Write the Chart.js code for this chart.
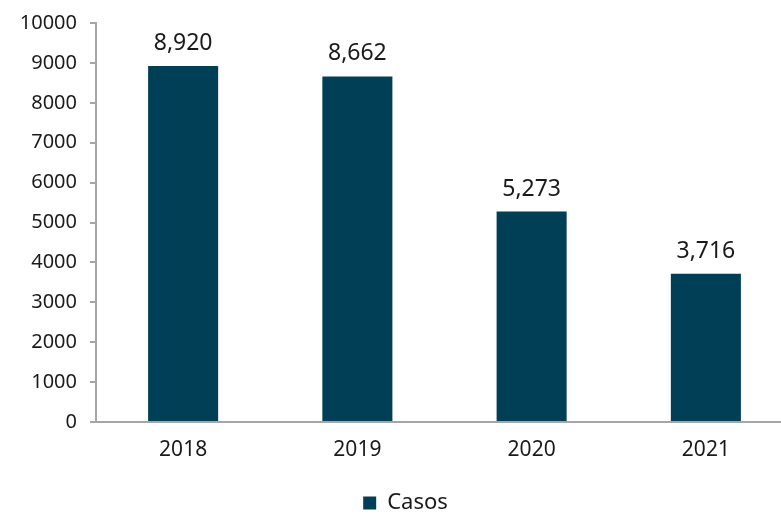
<!DOCTYPE html>
<html>
<head>
<meta charset="utf-8">
<script src="https://cdn.jsdelivr.net/npm/chart.js@4/dist/chart.umd.min.js"></script>
<style>
  html, body { margin: 0; padding: 0; background: #ffffff; overflow: hidden; }
  #wrap { width: 826px; height: 515px; }
</style>
</head>
<body>
<div id="wrap"><canvas id="chart" width="826" height="515"></canvas></div>
<script>
// Cases per year
const years = ['2018', '2019', '2020', '2021'];
const casos = [8920, 8662, 5273, 3716];
const yTicks = [0, 1000, 2000, 3000, 4000, 5000, 6000, 7000, 8000, 9000, 10000];

const FONT = '"Noto Sans", sans-serif';
const BAR = '#013F56';
const TEXT = '#1a1a1a';
const AXIS = '#a6a6a6';

// Writes each bar's value (thousands separator) above the bar
const valueLabels = {
  id: 'valueLabels',
  afterDatasetsDraw(chart) {
    const ctx = chart.ctx;
    const meta = chart.getDatasetMeta(0);
    ctx.save();
    ctx.font = '23px ' + FONT;
    ctx.fillStyle = TEXT;
    ctx.textAlign = 'center';
    ctx.textBaseline = 'alphabetic';
    meta.data.forEach((bar, i) => {
      const v = chart.data.datasets[0].data[i];
      ctx.fillText(v.toLocaleString('en-US'), bar.x, bar.y - 16);
    });
    ctx.restore();
  }
};

new Chart(document.getElementById('chart'), {
  type: 'bar',
  data: {
    labels: years,
    datasets: [{
      label: 'Casos',
      data: casos,
      backgroundColor: BAR,
      borderWidth: 0,
      categoryPercentage: 1,
      barPercentage: 0.402
    }]
  },
  options: {
    responsive: false,
    animation: false,
    layout: { padding: { top: 20, right: 33, left: 18, bottom: -9 } },
    plugins: {
      legend: {
        position: 'bottom',
        labels: {
          font: { family: FONT, size: 22, lineHeight: 1 },
          color: TEXT,
          boxWidth: 13,
          boxHeight: 13,
          padding: 2
        }
      },
      tooltip: { enabled: false }
    },
    scales: {
      x: {
        afterFit(scale) { scale.height = 68; },
        grid: { display: false, drawTicks: false },
        border: { color: AXIS, width: 2 },
        ticks: { font: { family: FONT, size: 21 }, color: TEXT, padding: 15 }
      },
      y: {
        min: 0,
        max: 10000,
        afterBuildTicks(scale) { scale.ticks = yTicks.map(v => ({ value: v })); },
        afterFit(scale) { scale.width = 78; },
        grid: { drawOnChartArea: false, drawTicks: true, tickLength: 6, color: AXIS, lineWidth: 2 },
        border: { color: AXIS, width: 2 },
        ticks: { font: { family: FONT, size: 20, lineHeight: 1 }, color: TEXT, padding: 13, callback: v => String(v) }
      }
    }
  },
  plugins: [valueLabels]
});
</script>
</body>
</html>
